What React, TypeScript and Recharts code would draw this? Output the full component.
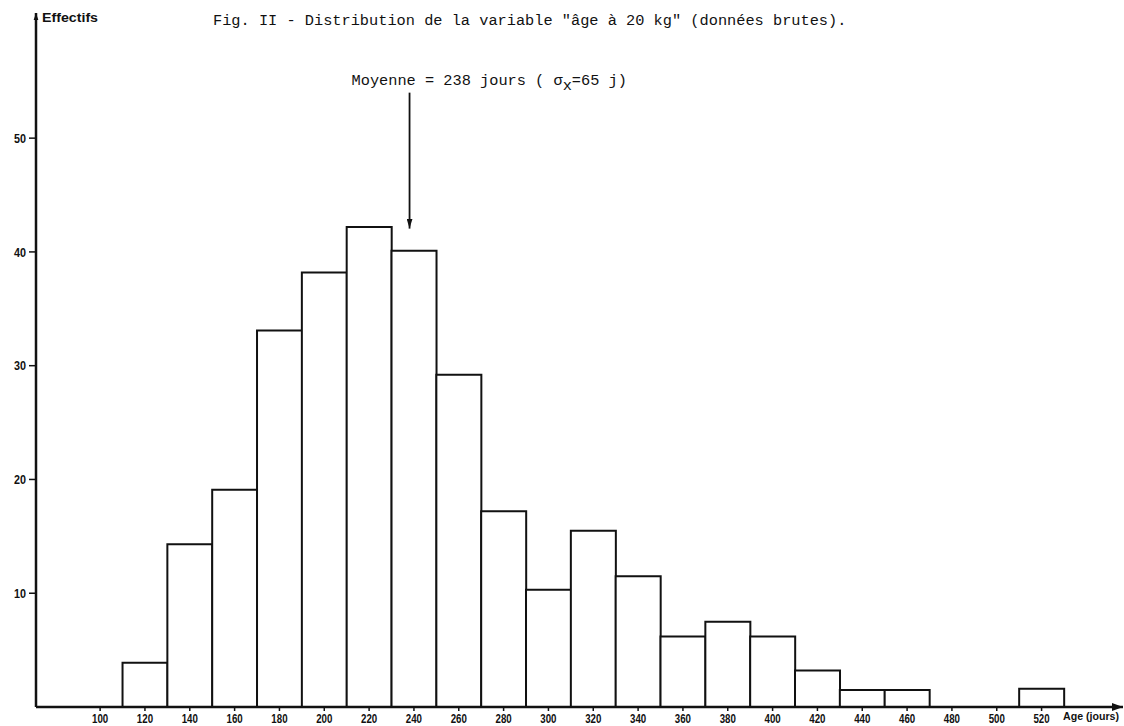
import React from 'react';
import { BarChart, Bar, XAxis, YAxis, ReferenceLine, ReferenceDot } from 'recharts';

// ---- data ----
const binLabels = ['100', '120', '140', '160', '180', '200', '220', '240', '260', '280', '300', '320', '340', '360', '380', '400', '420', '440', '460', '480', '500', '520'];
const counts = [0, 3.9, 14.3, 19.1, 33.1, 38.2, 42.2, 40.1, 29.2, 17.2, 10.3, 15.5, 11.5, 6.2, 7.5, 6.2, 3.2, 1.5, 1.5, 0, 0, 1.6];
const yTicks = [10, 20, 30, 40, 50];
const MEAN_DAYS = 238;
const SIGMA_DAYS = 65;
const ARROW_TOP = 54.0;
const ARROW_TIP = 42.05;

const TITLE = 'Fig. II - Distribution de la variable "âge à 20 kg" (données brutes).';
const Y_TITLE = 'Effectifs';
const X_TITLE = 'Age (jours)';

const data = binLabels.map((label, i) => ({ label, center: Number(label), count: counts[i] }));

const W = 1124;
const H = 726;
const MONO = "'Liberation Mono', 'DejaVu Sans Mono', monospace";
const SANS = "'Liberation Sans', Arial, sans-serif";

const MeanLabel = (props: any) => {
  const { cx, cy } = props;
  if (cx == null || cy == null) return null;
  return (
    <text x={cx - 58} y={cy - 8} fontFamily={MONO} fontSize={15.3} fill="#111">
      <tspan>{`Moyenne = ${MEAN_DAYS} jours ( σ`}</tspan>
      <tspan dy={5}>x</tspan>
      <tspan dy={-5}>{`=${SIGMA_DAYS} j)`}</tspan>
    </text>
  );
};

const XTick = (props: any) => {
  const { x, y, payload } = props;
  const s = String(payload.value);
  return (
    <text x={x} y={y} dy="0.71em" textAnchor="middle" fontFamily={SANS} fontWeight="bold" fontSize={12} fill="#111"
      textLength={s.length * 5.4} lengthAdjust="spacingAndGlyphs">
      {s}
    </text>
  );
};

const YTick = (props: any) => {
  const { x, y, payload } = props;
  const s = String(payload.value);
  return (
    <text x={x} y={y} dy="0.355em" textAnchor="end" fontFamily={SANS} fontWeight="bold" fontSize={13} fill="#111"
      textLength={s.length * 6} lengthAdjust="spacingAndGlyphs">
      {s}
    </text>
  );
};

const YTitle = (props: any) => {
  const vb = props.viewBox || { x: 0, y: 13, width: 36 };
  return (
    <text x={vb.x + vb.width + 6} y={vb.y + 9} fontFamily={SANS} fontWeight="bold" fontSize={13.5} fill="#111"
      textLength={56} lengthAdjust="spacingAndGlyphs">
      {Y_TITLE}
    </text>
  );
};

const XTitle = (props: any) => {
  const vb = props.viewBox || { x: 36, y: 707, width: 1087 };
  return (
    <text x={vb.x + vb.width - 60} y={vb.y + 5} dy="0.71em" fontFamily={SANS} fontWeight="bold" fontSize={11} fill="#111"
      textLength={56} lengthAdjust="spacingAndGlyphs">
      {X_TITLE}
    </text>
  );
};

export default function App() {
  return (
    <div style={{ position: 'absolute', left: 0, top: 0, width: W, height: H, background: '#fff' }}>
      <svg width={W} height={H} style={{ position: 'absolute', left: 0, top: 0, pointerEvents: 'none' }}>
        <defs>
          <marker id="arrowY" markerUnits="userSpaceOnUse" markerWidth="7" markerHeight="9" refX="9" refY="3" orient="auto-start-reverse" viewBox="0 0 9 6">
            <path d="M0,0 L9,3 L0,6 Z" fill="#111" />
          </marker>
          <marker id="arrowX" markerUnits="userSpaceOnUse" markerWidth="11" markerHeight="8" refX="11" refY="4" orient="auto-start-reverse" viewBox="0 0 11 8">
            <path d="M0,0 L11,4 L0,8 Z" fill="#111" />
          </marker>
          <marker id="arrowM" markerUnits="userSpaceOnUse" markerWidth="10" markerHeight="6" refX="10" refY="3" orient="auto" viewBox="0 0 10 6">
            <path d="M0,0 L10,3 L0,6 Z" fill="#111" />
          </marker>
        </defs>
        <text x={213} y={25} fontFamily={MONO} fontSize={15.3} fill="#111" style={{ whiteSpace: 'pre' }}>
          {TITLE}
        </text>
      </svg>
      <div style={{ position: 'absolute', left: 0, top: 0 }}>
        <BarChart
          width={W}
          height={H}
          data={data}
          margin={{ top: 13, right: 1, bottom: 0, left: 0 }}
          barCategoryGap={0}
          barGap={0}
        >
          <XAxis
            dataKey="label"
            type="category"
            interval={0}
            height={19}
            padding={{ left: 41.7, right: 59 }}
            axisLine={{ stroke: '#111', strokeWidth: 2.5, markerEnd: 'url(#arrowX)' }}
            tickLine={{ stroke: '#111', strokeWidth: 1.5 }}
            tickSize={4}
            tickMargin={3}
            tick={XTick}
            label={{ content: XTitle }}
          />
          <XAxis
            xAxisId="num"
            dataKey="center"
            type="number"
            scale="linear"
            domain={[71.4, 556.2]}
            allowDataOverflow
            hide
          />
          <YAxis
            type="number"
            domain={[0, 61]}
            allowDataOverflow
            ticks={yTicks}
            width={36}
            axisLine={{ stroke: '#111', strokeWidth: 2.5, markerStart: 'url(#arrowY)' }}
            tickLine={{ stroke: '#111', strokeWidth: 1.5 }}
            tickSize={7}
            tickMargin={3}
            tick={YTick}
            label={{ content: YTitle }}
          />
          <Bar dataKey="count" fill="#fff" stroke="#111" strokeWidth={2} isAnimationActive={false} />
          <ReferenceLine
            xAxisId="num"
            segment={[{ x: MEAN_DAYS, y: ARROW_TOP }, { x: MEAN_DAYS, y: ARROW_TIP }]}
            stroke="#111"
            strokeWidth={1.8}
            markerEnd="url(#arrowM)"
            ifOverflow="visible"
          />
          <ReferenceDot xAxisId="num" x={MEAN_DAYS} y={ARROW_TOP} r={0} ifOverflow="visible" shape={MeanLabel} />
        </BarChart>
      </div>
    </div>
  );
}
